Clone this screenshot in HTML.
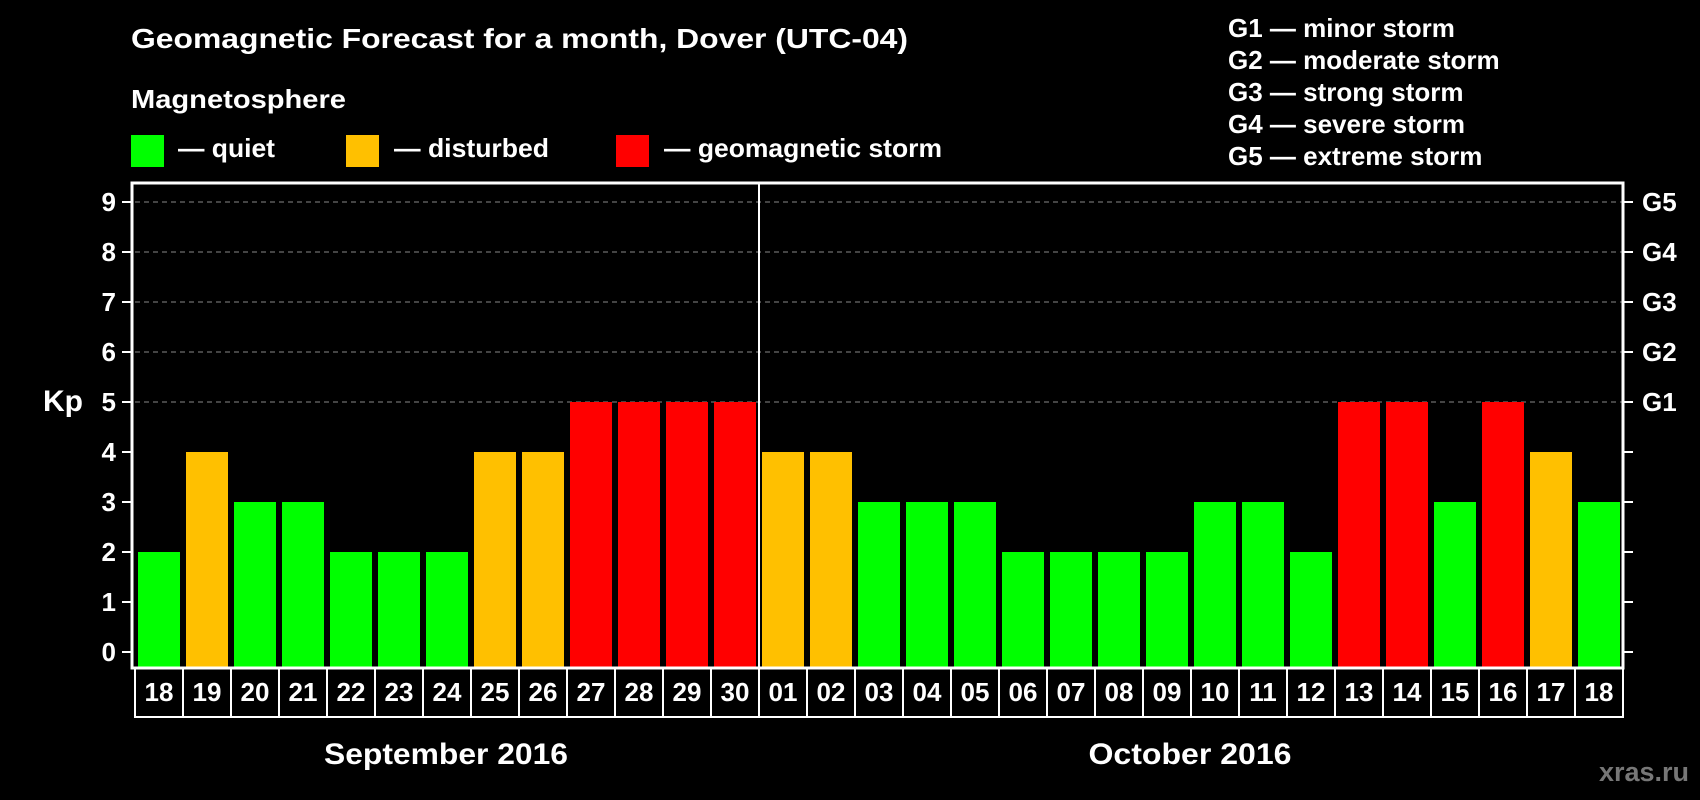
<!DOCTYPE html>
<html><head><meta charset="utf-8"><style>
html,body{margin:0;padding:0;background:#000;}
svg{display:block;font-family:"Liberation Sans",Arial,sans-serif;font-weight:bold;}
</style></head><body>
<svg id="chart" width="1700" height="800" viewBox="0 0 1700 800" xmlns="http://www.w3.org/2000/svg">
<rect x="0" y="0" width="1700" height="800" fill="#000"/>
<text x="131" y="48" fill="#fff" font-size="28" textLength="777" lengthAdjust="spacingAndGlyphs">Geomagnetic Forecast for a month, Dover (UTC-04)</text>
<text x="131" y="108" fill="#fff" font-size="26" textLength="215" lengthAdjust="spacingAndGlyphs">Magnetosphere</text>
<g>
<rect x="131" y="135" width="33" height="32" fill="#00ff00"/>
<text x="178" y="157" fill="#fff" font-size="26" textLength="97" lengthAdjust="spacingAndGlyphs">— quiet</text></g>
<g>
<rect x="346" y="135" width="33" height="32" fill="#ffc000"/>
<text x="394" y="157" fill="#fff" font-size="26" textLength="155" lengthAdjust="spacingAndGlyphs">— disturbed</text></g>
<g>
<rect x="616" y="135" width="33" height="32" fill="#ff0000"/>
<text x="664" y="157" fill="#fff" font-size="26" textLength="278" lengthAdjust="spacingAndGlyphs">— geomagnetic storm</text></g>
<g font-size="26" fill="#fff">
<text x="1228" y="37">G1 — minor storm</text>
<text x="1228" y="69">G2 — moderate storm</text>
<text x="1228" y="101">G3 — strong storm</text>
<text x="1228" y="133">G4 — severe storm</text>
<text x="1228" y="165">G5 — extreme storm</text>
</g>
<g id="grid"></g>
<g id="bars"></g>
<g id="axes"></g>
<text x="43" y="411" fill="#fff" font-size="30">Kp</text>
<text x="446" y="764" fill="#fff" font-size="30" text-anchor="middle" textLength="244" lengthAdjust="spacingAndGlyphs">September 2016</text>
<text x="1190" y="764" fill="#fff" font-size="30" text-anchor="middle" textLength="203" lengthAdjust="spacingAndGlyphs">October 2016</text>
<text x="1689" y="781" fill="#777" font-size="27" text-anchor="end">xras.ru</text>
</svg>
<script>
const days = ["18","19","20","21","22","23","24","25","26","27","28","29","30","01","02","03","04","05","06","07","08","09","10","11","12","13","14","15","16","17","18"];
const kpValues = [2,4,3,3,2,2,2,4,4,5,5,5,5,4,4,3,3,3,2,2,2,2,3,3,2,5,5,3,5,4,3];
const yTicks = [0,1,2,3,4,5,6,7,8,9];
const gLabels = {5:"G1",6:"G2",7:"G3",8:"G4",9:"G5"};
const monthBreakIndex = 13;

const NS = "http://www.w3.org/2000/svg";
const plotL = 135, cellW = 48, plotT = 183, plotB = 668, labelB = 717, plotR = plotL + cellW * days.length;
function yScale(v){ return 652 - v * 50; }
function xScale(i){ return plotL + i * cellW; }
function mk(tag, attrs, parent){ const e = document.createElementNS(NS, tag); for (const k in attrs) e.setAttribute(k, attrs[k]); parent.appendChild(e); return e; }
function colorFor(v){ return v >= 5 ? "#ff0000" : (v === 4 ? "#ffc000" : "#00ff00"); }

const gridG = document.getElementById("grid"), barsG = document.getElementById("bars"), axesG = document.getElementById("axes");
yTicks.forEach(t => {
  if (t >= 5) {
    const l = mk("line", {x1: plotL, x2: plotR, y1: yScale(t), y2: yScale(t), stroke: "#888", "stroke-width": 1, "stroke-dasharray": "5,4"}, gridG);
    
    
  }
});
kpValues.forEach((v, i) => {
  const r = mk("rect", {x: xScale(i) + 3, y: yScale(v), width: 42, height: plotB - yScale(v), fill: colorFor(v)}, barsG);
  
  
});
const frame = mk("path", {d: `M${plotL-3},${plotT} H${plotR} V${plotB} H${plotL-3} Z`, fill: "none", stroke: "#fff", "stroke-width": 3}, axesG);


const div = mk("line", {x1: xScale(monthBreakIndex), x2: xScale(monthBreakIndex), y1: plotT, y2: labelB, stroke: "#fff", "stroke-width": 2}, axesG);


yTicks.forEach(t => {
  const tl = mk("line", {x1: plotL-13, x2: plotL-3, y1: yScale(t), y2: yScale(t), stroke: "#fff", "stroke-width": 2}, axesG);
  
  
  const tr = mk("line", {x1: plotR, x2: plotR+10, y1: yScale(t), y2: yScale(t), stroke: "#fff", "stroke-width": 2}, axesG);
  
  
  const lb = mk("text", {x: 116, y: yScale(t) + 9, fill: "#fff", "font-size": 26, "text-anchor": "end"}, axesG);
  lb.textContent = t;
  
  
  if (gLabels[t]) {
    const g = mk("text", {x: 1642, y: yScale(t) + 9, fill: "#fff", "font-size": 26}, axesG);
    g.textContent = gLabels[t];
    
    
  }
});
days.forEach((d, i) => {
  const c = mk("rect", {x: xScale(i), y: plotB, width: cellW, height: labelB - plotB, fill: "none", stroke: "#fff", "stroke-width": 2}, axesG);
  
  
  const t = mk("text", {x: xScale(i) + cellW/2, y: 701, fill: "#fff", "font-size": 26, "text-anchor": "middle"}, axesG);
  t.textContent = d;
  
  
});
</script>
</body></html>
